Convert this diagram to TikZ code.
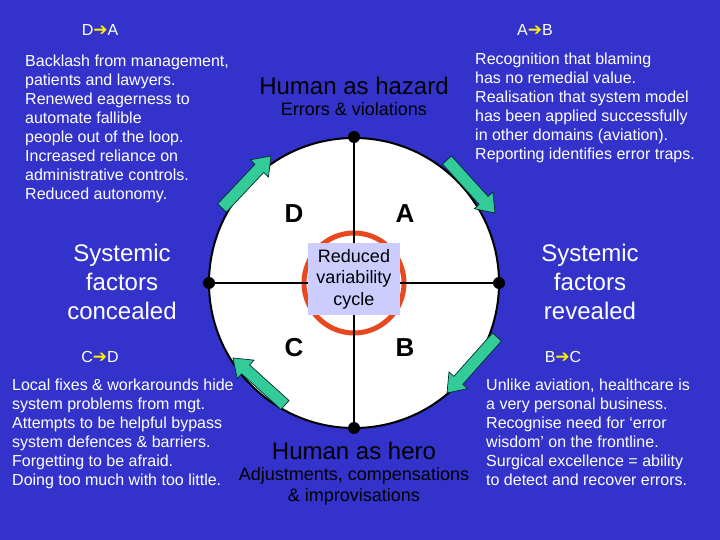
\documentclass[tikz,border=0pt]{standalone}
\usepackage{fontspec}
\setmainfont{Liberation Sans}
\newfontfamily\dejavu{DejaVu Sans}
\usetikzlibrary{calc}
\definecolor{bgblue}{RGB}{51,51,204}
\definecolor{arrowgreen}{RGB}{51,204,153}
\definecolor{arrowline}{RGB}{0,40,50}
\definecolor{ringred}{RGB}{232,72,30}
\definecolor{boxlav}{RGB}{204,204,255}
\newcommand\fatarrow[2]{%
  \coordinate (fa-h) at ($(#2)!17pt!(#1)$);
  \filldraw[fatarrowstyle] ($(#1)!6pt!90:(#2)$) -- ($(fa-h)!6pt!90:(#2)$) -- ($(fa-h)!12.5pt!90:(#2)$) -- (#2)
    -- ($(fa-h)!12.5pt!-90:(#2)$) -- ($(fa-h)!6pt!-90:(#2)$) -- ($(#1)!6pt!-90:(#2)$) -- cycle;}
\tikzset{
  fatarrowstyle/.style={fill=arrowgreen, draw=arrowline, line width=0.7pt, line join=miter},
  wblock/.style={text=white, font=\fontsize{16}{19}\selectfont, align=left, inner sep=0pt, anchor=north west},
  bigw/.style={text=white, font=\fontsize{24}{29}\selectfont, align=center, inner sep=0pt},
  hazard/.style={text=black, font=\fontsize{24}{29}\selectfont, inner sep=0pt},
  sub/.style={text=black, font=\fontsize{18}{21}\selectfont, align=center, inner sep=0pt},
  letter/.style={text=black, font=\fontsize{26}{30}\selectfont\bfseries, inner sep=0pt},
  lbl/.style={text=white, font=\fontsize{16}{19}\selectfont, inner sep=0pt},
  dot/.style={circle, fill=black, inner sep=0pt, minimum size=12pt},
}
\newcommand\yarr{\textcolor{yellow}{\dejavu\fontsize{17}{19}\selectfont ➔}}
\begin{document}
\begin{tikzpicture}[x=1pt,y=-1pt]
\fill[bgblue] (0,0) rectangle (720,540);
\useasboundingbox (0,0) rectangle (720,540);
% big circle
\coordinate (c) at (354,283);
\filldraw[fill=white, draw=black, line width=2pt] (c) circle[radius=145];
% red ring
\draw[ringred, line width=5pt] (c) circle[radius=50];
% dots
\node[dot] (top) at (354,137) {};
\node[dot] (bot) at (354,428) {};
\node[dot] (lft) at (209,283) {};
\node[dot] (rgt) at (499,283) {};
\draw[black, line width=1.1pt] (top) -- (bot);
\draw[black, line width=1.1pt] (lft) -- (rgt);
% centre box
\node[fill=boxlav, minimum width=92pt, minimum height=72pt, inner sep=0pt, align=center,
      font=\fontsize{18}{21.5}\selectfont] (cyc) at (354,279) {Reduced\\variability\\cycle};
% quadrant letters
\node[letter] (D) at (294,214) {D};
\node[letter] (A) at (405,214) {A};
\node[letter] (C) at (294,348) {C};
\node[letter] (B) at (405,348) {B};
% arrows
\coordinate (ult) at (222,208); \coordinate (ulh) at (271,156);
\coordinate (urt) at (447,160); \coordinate (urh) at (495,213);
\coordinate (lrt) at (497,337); \coordinate (lrh) at (447,393);
\coordinate (llt) at (285,405); \coordinate (llh) at (233,358);
\fatarrow{ult}{ulh}
\fatarrow{urt}{urh}
\fatarrow{lrt}{lrh}
\fatarrow{llt}{llh}
% phase labels
\node[lbl] (da) at (100,30) {D\yarr A};
\node[lbl] (ab) at (535,30) {A\yarr B};
\node[lbl] (cd) at (100,357) {C\yarr D};
\node[lbl] (bc) at (563,357) {B\yarr C};
% headings
\node[hazard] (haz) at (354,86) {Human as hazard};
\node[sub] (err) at (354,109) {Errors \& violations};
\node[hazard] (hero) at (354,451) {Human as hero};
\node[sub] (adj) at (354,486.5) {Adjustments, compensations\\\& improvisations};
\node[bigw] (conc) at (122,282) {Systemic\\factors\\concealed};
\node[bigw] (rev) at (590,282) {Systemic\\factors\\revealed};
% text blocks
\node[wblock] (tl) at (25,55) {Backlash from management,\\patients and lawyers.\\Renewed eagerness to\\automate fallible\\people out of the loop.\\Increased reliance on\\administrative controls.\\Reduced autonomy.};
\node[wblock] (tr) at (475,52.5) {Recognition that blaming\\has no remedial value.\\Realisation that system model\\has been applied successfully\\in other domains (aviation).\\Reporting identifies error traps.};
\node[wblock] (bl) at (12,378.5) {Local fixes \& workarounds hide\\system problems from mgt.\\Attempts to be helpful bypass\\system defences \& barriers.\\Forgetting to be afraid.\\Doing too much with too little.};
\node[wblock] (br) at (486,378.5) {Unlike aviation, healthcare is\\a very personal business.\\Recognise need for ‘error\\wisdom’ on the frontline.\\Surgical excellence = ability\\to detect and recover errors.};
\end{tikzpicture}
\end{document}
